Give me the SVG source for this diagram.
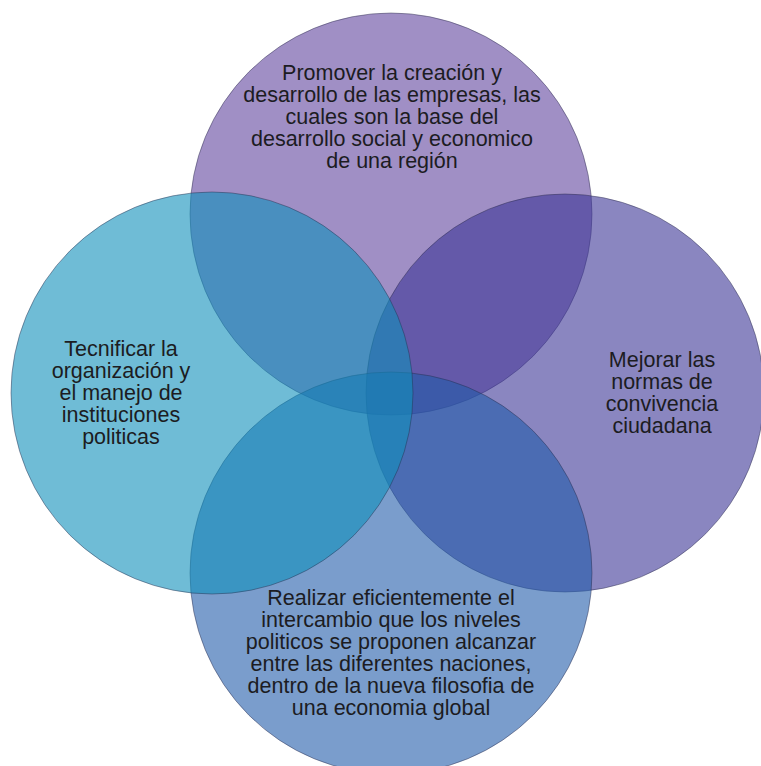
<svg xmlns="http://www.w3.org/2000/svg" width="761" height="766" viewBox="0 0 761 766">
<style>
.c{fill-opacity:0.6;stroke:#2a2a4a;stroke-opacity:0.45;stroke-width:1}
.t{font-family:"Liberation Sans",Arial,sans-serif;font-size:21.5px;fill:#1c1c22;text-anchor:middle}
</style>
<rect width="761" height="766" fill="#ffffff"/>
<g id="node-top">
<circle class="c" cx="391" cy="214" r="201" fill="#61449e"/>
</g>
<g id="node-right">
<circle class="c" cx="565" cy="393" r="199" fill="#3c3596"/>
</g>
<g id="node-bottom">
<circle class="c" cx="391" cy="573" r="201" fill="#215caa"/>
</g>
<g id="node-left">
<circle class="c" cx="212" cy="393" r="201" fill="#0f8fbb"/>
</g>
<g id="labels">
<text class="t" x="392" y="80">Promover la creación y</text>
<text class="t" x="392" y="102">desarrollo de las empresas, las</text>
<text class="t" x="392" y="124">cuales son la base del</text>
<text class="t" x="392" y="146">desarrollo social y economico</text>
<text class="t" x="392" y="168">de una región</text>
<text class="t" x="121" y="356">Tecnificar la</text>
<text class="t" x="121" y="378">organización y</text>
<text class="t" x="121" y="400">el manejo de</text>
<text class="t" x="121" y="422">instituciones</text>
<text class="t" x="121" y="444">politicas</text>
<text class="t" x="662" y="367">Mejorar las</text>
<text class="t" x="662" y="389">normas de</text>
<text class="t" x="662" y="411">convivencia</text>
<text class="t" x="662" y="433">ciudadana</text>
<text class="t" x="391" y="605">Realizar eficientemente el</text>
<text class="t" x="391" y="627">intercambio que los niveles</text>
<text class="t" x="391" y="649">politicos se proponen alcanzar</text>
<text class="t" x="391" y="671">entre las diferentes naciones,</text>
<text class="t" x="391" y="693">dentro de la nueva filosofia de</text>
<text class="t" x="391" y="715">una economia global</text>
</g>
<g id="connectors"></g>
</svg>
